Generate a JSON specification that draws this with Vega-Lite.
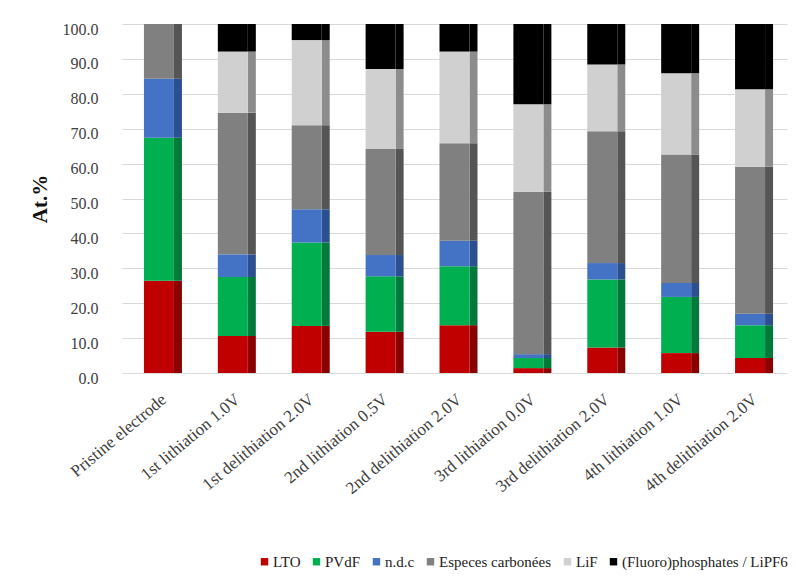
{
  "$schema": "https://vega.github.io/schema/vega-lite/v6.json",
  "autosize": {"type": "none"},
  "width": 665,
  "height": 349,
  "padding": {"left": 122, "top": 24, "right": 9, "bottom": 208},
  "background": "white",
  "config": {
    "view": {"stroke": null},
    "font": "Liberation Serif",
    "axis": {"labelFont": "Liberation Serif", "titleFont": "Liberation Serif"},
    "legend": {"labelFont": "Liberation Serif, Times New Roman, serif", "titleFont": "Liberation Serif"}
  },
  "data": {
    "values": [
      {"s": "Pristine electrode", "c": "LTO", "k": 1, "v": 26.4},
      {"s": "Pristine electrode", "c": "PVdF", "k": 2, "v": 41.0},
      {"s": "Pristine electrode", "c": "n.d.c", "k": 3, "v": 16.9},
      {"s": "Pristine electrode", "c": "Especes carbonées", "k": 4, "v": 15.7},
      {"s": "Pristine electrode", "c": "LiF", "k": 5, "v": 0},
      {"s": "Pristine electrode", "c": "(Fluoro)phosphates / LiPF6", "k": 6, "v": 0},
      {"s": "1st lithiation 1.0V", "c": "LTO", "k": 1, "v": 10.6},
      {"s": "1st lithiation 1.0V", "c": "PVdF", "k": 2, "v": 16.9},
      {"s": "1st lithiation 1.0V", "c": "n.d.c", "k": 3, "v": 6.5},
      {"s": "1st lithiation 1.0V", "c": "Especes carbonées", "k": 4, "v": 40.6},
      {"s": "1st lithiation 1.0V", "c": "LiF", "k": 5, "v": 17.5},
      {"s": "1st lithiation 1.0V", "c": "(Fluoro)phosphates / LiPF6", "k": 6, "v": 7.9},
      {"s": "1st delithiation 2.0V", "c": "LTO", "k": 1, "v": 13.5},
      {"s": "1st delithiation 2.0V", "c": "PVdF", "k": 2, "v": 23.9},
      {"s": "1st delithiation 2.0V", "c": "n.d.c", "k": 3, "v": 9.5},
      {"s": "1st delithiation 2.0V", "c": "Especes carbonées", "k": 4, "v": 24.1},
      {"s": "1st delithiation 2.0V", "c": "LiF", "k": 5, "v": 24.4},
      {"s": "1st delithiation 2.0V", "c": "(Fluoro)phosphates / LiPF6", "k": 6, "v": 4.6},
      {"s": "2nd lithiation 0.5V", "c": "LTO", "k": 1, "v": 11.8},
      {"s": "2nd lithiation 0.5V", "c": "PVdF", "k": 2, "v": 15.9},
      {"s": "2nd lithiation 0.5V", "c": "n.d.c", "k": 3, "v": 6.1},
      {"s": "2nd lithiation 0.5V", "c": "Especes carbonées", "k": 4, "v": 30.4},
      {"s": "2nd lithiation 0.5V", "c": "LiF", "k": 5, "v": 22.9},
      {"s": "2nd lithiation 0.5V", "c": "(Fluoro)phosphates / LiPF6", "k": 6, "v": 12.9},
      {"s": "2nd delithiation 2.0V", "c": "LTO", "k": 1, "v": 13.7},
      {"s": "2nd delithiation 2.0V", "c": "PVdF", "k": 2, "v": 16.9},
      {"s": "2nd delithiation 2.0V", "c": "n.d.c", "k": 3, "v": 7.3},
      {"s": "2nd delithiation 2.0V", "c": "Especes carbonées", "k": 4, "v": 27.9},
      {"s": "2nd delithiation 2.0V", "c": "LiF", "k": 5, "v": 26.3},
      {"s": "2nd delithiation 2.0V", "c": "(Fluoro)phosphates / LiPF6", "k": 6, "v": 7.9},
      {"s": "3rd lithiation 0.0V", "c": "LTO", "k": 1, "v": 1.4},
      {"s": "3rd lithiation 0.0V", "c": "PVdF", "k": 2, "v": 2.9},
      {"s": "3rd lithiation 0.0V", "c": "n.d.c", "k": 3, "v": 1.1},
      {"s": "3rd lithiation 0.0V", "c": "Especes carbonées", "k": 4, "v": 46.5},
      {"s": "3rd lithiation 0.0V", "c": "LiF", "k": 5, "v": 25.1},
      {"s": "3rd lithiation 0.0V", "c": "(Fluoro)phosphates / LiPF6", "k": 6, "v": 23.0},
      {"s": "3rd delithiation 2.0V", "c": "LTO", "k": 1, "v": 7.3},
      {"s": "3rd delithiation 2.0V", "c": "PVdF", "k": 2, "v": 19.5},
      {"s": "3rd delithiation 2.0V", "c": "n.d.c", "k": 3, "v": 4.7},
      {"s": "3rd delithiation 2.0V", "c": "Especes carbonées", "k": 4, "v": 37.8},
      {"s": "3rd delithiation 2.0V", "c": "LiF", "k": 5, "v": 19.1},
      {"s": "3rd delithiation 2.0V", "c": "(Fluoro)phosphates / LiPF6", "k": 6, "v": 11.6},
      {"s": "4th lithiation 1.0V", "c": "LTO", "k": 1, "v": 5.7},
      {"s": "4th lithiation 1.0V", "c": "PVdF", "k": 2, "v": 16.1},
      {"s": "4th lithiation 1.0V", "c": "n.d.c", "k": 3, "v": 4.0},
      {"s": "4th lithiation 1.0V", "c": "Especes carbonées", "k": 4, "v": 36.8},
      {"s": "4th lithiation 1.0V", "c": "LiF", "k": 5, "v": 23.3},
      {"s": "4th lithiation 1.0V", "c": "(Fluoro)phosphates / LiPF6", "k": 6, "v": 14.1},
      {"s": "4th delithiation 2.0V", "c": "LTO", "k": 1, "v": 4.3},
      {"s": "4th delithiation 2.0V", "c": "PVdF", "k": 2, "v": 9.4},
      {"s": "4th delithiation 2.0V", "c": "n.d.c", "k": 3, "v": 3.3},
      {"s": "4th delithiation 2.0V", "c": "Especes carbonées", "k": 4, "v": 42.1},
      {"s": "4th delithiation 2.0V", "c": "LiF", "k": 5, "v": 22.2},
      {"s": "4th delithiation 2.0V", "c": "(Fluoro)phosphates / LiPF6", "k": 6, "v": 18.7}
    ]
  },
  "encoding": {
    "x": {
      "field": "s",
      "type": "nominal",
      "sort": null,
      "scale": {"paddingInner": 0, "paddingOuter": 0},
      "axis": {
        "title": null,
        "labelAngle": -40,
        "labelFont": "Liberation Serif",
        "labelFontSize": 17,
        "labelColor": "#404040",
        "labelPadding": 18,
        "labelLimit": 300,
        "domain": false,
        "ticks": false,
        "grid": false
      }
    },
    "y": {
      "field": "v",
      "type": "quantitative",
      "stack": "zero",
      "scale": {"domain": [0, 100], "nice": false},
      "axis": {
        "title": "At.%",
        "titleFont": "Liberation Serif",
        "titleFontSize": 21,
        "titleFontWeight": "bold",
        "titleColor": "#111111",
        "titlePadding": 12,
        "values": [0, 10, 20, 30, 40, 50, 60, 70, 80, 90, 100],
        "format": ".1f",
        "labelFont": "Liberation Serif",
        "labelFontSize": 16,
        "labelColor": "#404040",
        "labelPadding": 24,
        "labelOffset": 5,
        "domain": false,
        "ticks": false,
        "grid": true,
        "gridColor": "#d9d9d9",
        "gridWidth": 1
      }
    },
    "order": {"field": "k", "type": "quantitative"}
  },
  "layer": [
    {
      "mark": {"type": "bar", "width": 8, "xOffset": 19},
      "encoding": {
        "color": {
          "field": "c",
          "type": "nominal",
          "legend": null,
          "scale": {
            "domain": ["LTO", "PVdF", "n.d.c", "Especes carbonées", "LiF", "(Fluoro)phosphates / LiPF6"],
            "range": ["#8a0000", "#007a3a", "#2c4f8f", "#555555", "#8c8c8c", "#000000"]
          }
        }
      }
    },
    {
      "mark": {"type": "bar", "width": 30},
      "encoding": {
        "color": {
          "field": "c",
          "type": "nominal",
          "scale": {
            "domain": ["LTO", "PVdF", "n.d.c", "Especes carbonées", "LiF", "(Fluoro)phosphates / LiPF6"],
            "range": ["#c00000", "#00b050", "#4472c4", "#808080", "#d0d0d0", "#000000"]
          },
          "legend": {
            "title": null,
            "orient": "none",
            "direction": "horizontal",
            "legendX": 135,
            "legendY": 530,
            "symbolType": "square",
            "symbolSize": 55,
            "symbolStrokeWidth": 0,
            "labelFont": "Liberation Serif, Times New Roman, serif",
            "labelFontSize": 15,
            "labelColor": "#222222",
            "labelOffset": 1,
            "labelLimit": 300,
            "columnPadding": 8
          }
        }
      }
    }
  ],
  "resolve": {"scale": {"color": "independent"}}
}
